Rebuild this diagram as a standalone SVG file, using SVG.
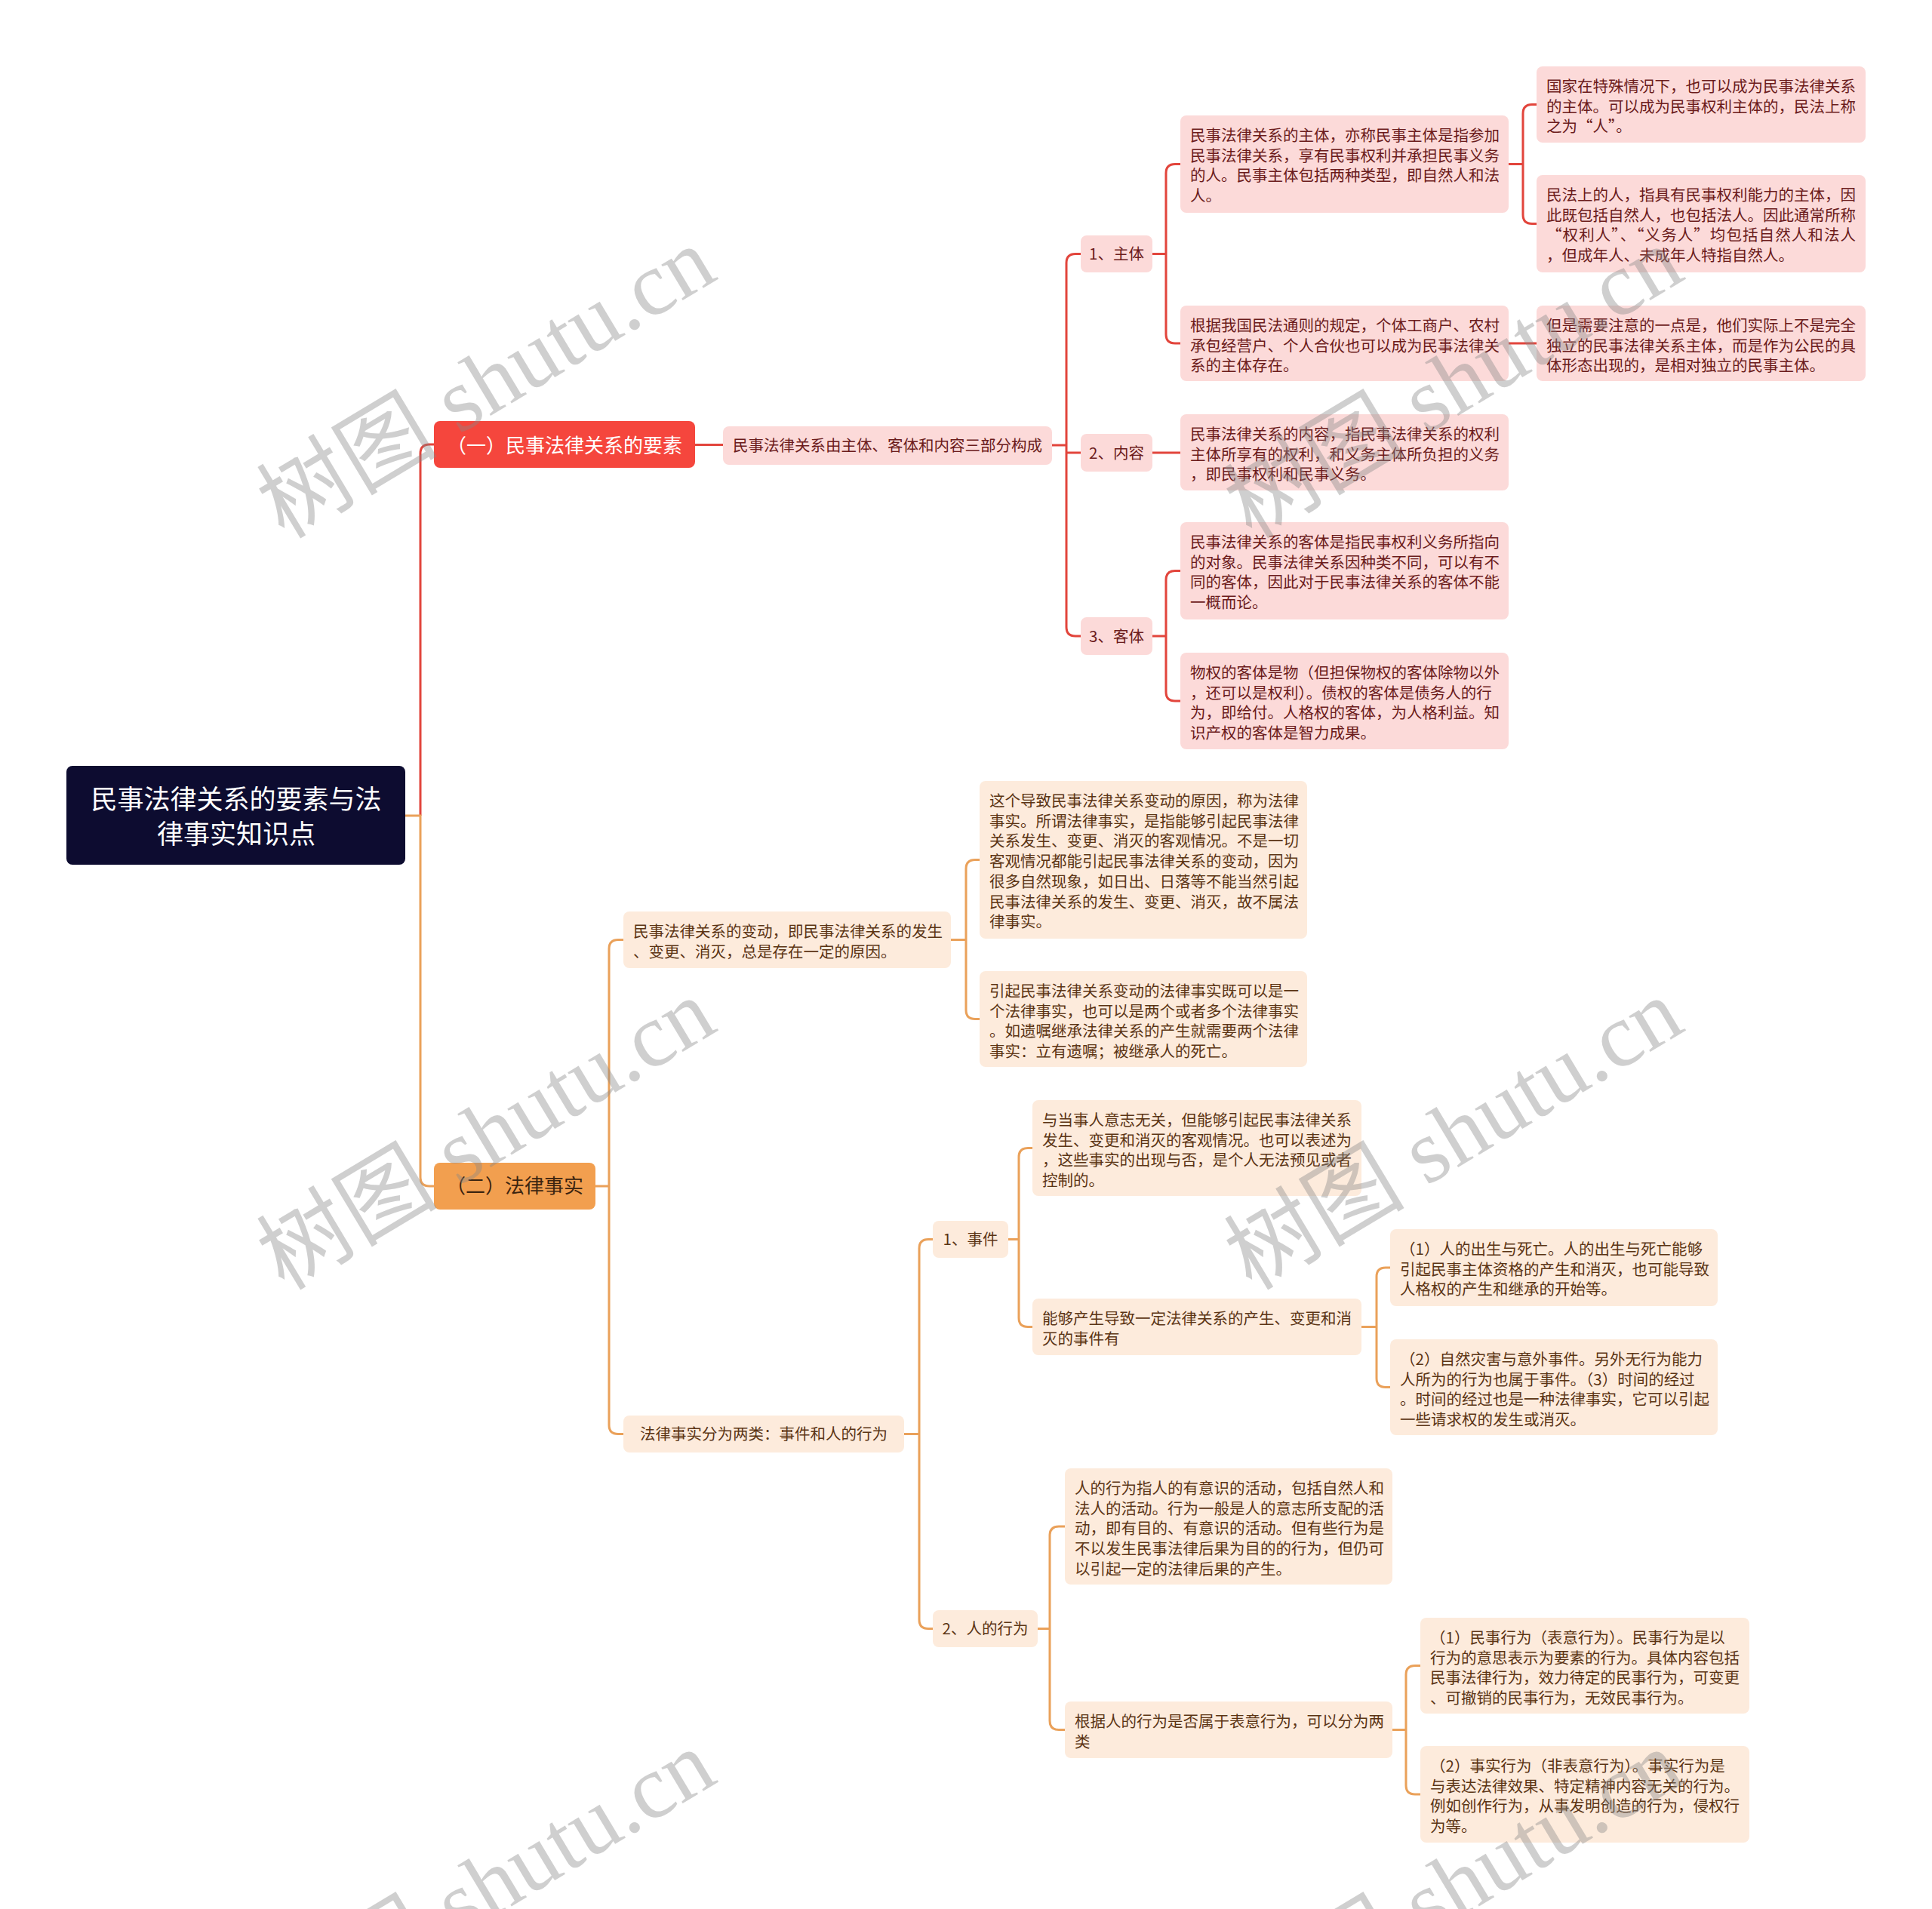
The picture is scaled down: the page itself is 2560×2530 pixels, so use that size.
<svg xmlns="http://www.w3.org/2000/svg" width="2560" height="2530" viewBox="0 0 2560 2530">
<style>
text{font-family:"Noto Sans CJK SC","Noto Sans",sans-serif}
.lr{fill:none;stroke:#e2453c;stroke-width:3}
.lo{fill:none;stroke:#eaa15a;stroke-width:3}
.pk{fill:#fcdad9}
.ok{fill:#fdebdc}
.tr{fill:#6b1b1b;font-size:20.5px}
.to{fill:#5b3414;font-size:20.5px}
.c{text-anchor:middle}
.wm{font-family:"Liberation Serif","Noto Sans CJK SC",serif;font-size:120px;fill:#888;fill-opacity:0.4;text-anchor:middle}
</style>
<rect width="2560" height="2530" fill="#ffffff"/>
<g id="connectors">
<path class="lr" d="M575 589 H569 Q557 589 557 601 V1081"/>
<path class="lo" d="M537 1081 H557 V1560 Q557 1572 569 1572 H575"/>
<path class="lr" d="M921 589.5 H958"/>
<path class="lr" d="M1394 590 H1413"/>
<path class="lr" d="M1432 336.5 H1425 Q1413 336.5 1413 348.5 V831 Q1413 843 1425 843 H1432"/>
<path class="lr" d="M1413 600 H1432"/>
<path class="lr" d="M1527 336.5 H1545"/>
<path class="lr" d="M1564 217.5 H1557 Q1545 217.5 1545 229.5 V443 Q1545 455 1557 455 H1564"/>
<path class="lr" d="M1999 217.5 H2018"/>
<path class="lr" d="M2036 138.5 H2030 Q2018 138.5 2018 150.5 V284.5 Q2018 296.5 2030 296.5 H2036"/>
<path class="lr" d="M1999 455 H2036"/>
<path class="lr" d="M1527 600 H1564"/>
<path class="lr" d="M1527 843 H1545"/>
<path class="lr" d="M1564 756.5 H1557 Q1545 756.5 1545 768.5 V917 Q1545 929 1557 929 H1564"/>
<path class="lo" d="M789 1572 H807"/>
<path class="lo" d="M826 1245.5 H819 Q807 1245.5 807 1257.5 V1888.5 Q807 1900.5 819 1900.5 H826"/>
<path class="lo" d="M1260 1245.5 H1280"/>
<path class="lo" d="M1298 1139.5 H1292 Q1280 1139.5 1280 1151.5 V1338.5 Q1280 1350.5 1292 1350.5 H1298"/>
<path class="lo" d="M1198 1900.5 H1218"/>
<path class="lo" d="M1236 1642.5 H1230 Q1218 1642.5 1218 1654.5 V2146.5 Q1218 2158.5 1230 2158.5 H1236"/>
<path class="lo" d="M1336 1642.5 H1350"/>
<path class="lo" d="M1368 1521.5 H1362 Q1350 1521.5 1350 1533.5 V1746.5 Q1350 1758.5 1362 1758.5 H1368"/>
<path class="lo" d="M1804 1758.5 H1824"/>
<path class="lo" d="M1842 1680 H1836 Q1824 1680 1824 1692 V1826.5 Q1824 1838.5 1836 1838.5 H1842"/>
<path class="lo" d="M1375 2158.5 H1391"/>
<path class="lo" d="M1411 2023 H1403 Q1391 2023 1391 2035 V2280.5 Q1391 2292.5 1403 2292.5 H1411"/>
<path class="lo" d="M1845 2292.5 H1863"/>
<path class="lo" d="M1882 2207.5 H1875 Q1863 2207.5 1863 2219.5 V2366 Q1863 2378 1875 2378 H1882"/>
</g>
<g id="root">
<rect x="88" y="1015" width="449" height="131" rx="8" fill="#0d0c30"/>
<text class="c" x="313" y="1072" font-size="35" fill="#ffffff">民事法律关系的要素与法<tspan x="313" dy="46">律事实知识点</tspan></text>
</g>
<g id="nA">
<rect x="575" y="558" width="346" height="62" rx="8" fill="#f5463d"/>
<text class="c" x="748" y="600" font-size="26" fill="#ffffff">（一）民事法律关系的要素</text>
</g>
<g id="nA1">
<rect class="pk" x="958" y="565" width="436" height="51" rx="8"/>
<text class="tr c" x="1176" y="598">民事法律关系由主体、客体和内容三部分构成</text>
</g>
<g id="nA11">
<rect class="pk" x="1432" y="312" width="95" height="49" rx="8"/>
<text class="tr c" x="1479.5" y="344">1、主体</text>
</g>
<g id="nA12">
<rect class="pk" x="1432" y="575" width="95" height="50" rx="8"/>
<text class="tr c" x="1479.5" y="607.5">2、内容</text>
</g>
<g id="nA13">
<rect class="pk" x="1432" y="818" width="95" height="50" rx="8"/>
<text class="tr c" x="1479.5" y="850.5">3、客体</text>
</g>
<g id="nM1">
<rect class="pk" x="1564" y="153" width="435" height="129" rx="8"/>
<text class="tr" x="1577" y="187">民事法律关系的主体，亦称民事主体是指参加<tspan x="1577" dy="26.7">民事法律关系，享有民事权利并承担民事义务</tspan><tspan x="1577" dy="26.7">的人。民事主体包括两种类型，即自然人和法</tspan><tspan x="1577" dy="26.7">人。</tspan></text>
</g>
<g id="nM2">
<rect class="pk" x="1564" y="405" width="435" height="100" rx="8"/>
<text class="tr" x="1577" y="439">根据我国民法通则的规定，个体工商户、农村<tspan x="1577" dy="26.7">承包经营户、个人合伙也可以成为民事法律关</tspan><tspan x="1577" dy="26.7">系的主体存在。</tspan></text>
</g>
<g id="nM3">
<rect class="pk" x="1564" y="549" width="435" height="101" rx="8"/>
<text class="tr" x="1577" y="583">民事法律关系的内容，指民事法律关系的权利<tspan x="1577" dy="26.7">主体所享有的权利，和义务主体所负担的义务</tspan><tspan x="1577" dy="26.7">，即民事权利和民事义务。</tspan></text>
</g>
<g id="nM4">
<rect class="pk" x="1564" y="692" width="435" height="129" rx="8"/>
<text class="tr" x="1577" y="726">民事法律关系的客体是指民事权利义务所指向<tspan x="1577" dy="26.7">的对象。民事法律关系因种类不同，可以有不</tspan><tspan x="1577" dy="26.7">同的客体，因此对于民事法律关系的客体不能</tspan><tspan x="1577" dy="26.7">一概而论。</tspan></text>
</g>
<g id="nM5">
<rect class="pk" x="1564" y="865" width="435" height="128" rx="8"/>
<text class="tr" x="1577" y="899">物权的客体是物（但担保物权的客体除物以外<tspan x="1577" dy="26.7">，还可以是权利）。债权的客体是债务人的行</tspan><tspan x="1577" dy="26.7">为，即给付。人格权的客体，为人格利益。知</tspan><tspan x="1577" dy="26.7">识产权的客体是智力成果。</tspan></text>
</g>
<g id="nN1">
<rect class="pk" x="2036" y="88" width="436" height="101" rx="8"/>
<text class="tr" x="2049" y="122">国家在特殊情况下，也可以成为民事法律关系<tspan x="2049" dy="26.7">的主体。可以成为民事权利主体的，民法上称</tspan><tspan x="2049" dy="26.7">之为“人”。</tspan></text>
</g>
<g id="nN2">
<rect class="pk" x="2036" y="232" width="436" height="129" rx="8"/>
<text class="tr" x="2049" y="266">民法上的人，指具有民事权利能力的主体，因<tspan x="2049" dy="26.7">此既包括自然人，也包括法人。因此通常所称</tspan></text>
<text class="tr" x="2049" y="319.4" textLength="410" lengthAdjust="spacing">“权利人”、“义务人”均包括自然人和法人</text>
<text class="tr" x="2049" y="346.1">，但成年人、未成年人特指自然人。</text>
</g>
<g id="nN3">
<rect class="pk" x="2036" y="405" width="436" height="100" rx="8"/>
<text class="tr" x="2049" y="439">但是需要注意的一点是，他们实际上不是完全<tspan x="2049" dy="26.7">独立的民事法律关系主体，而是作为公民的具</tspan><tspan x="2049" dy="26.7">体形态出现的，是相对独立的民事主体。</tspan></text>
</g>
<g id="nB">
<rect x="575" y="1541" width="214" height="62" rx="8" fill="#f29f4f"/>
<text class="c" x="682" y="1581" font-size="26" fill="#3b2410">（二）法律事实</text>
</g>
<g id="nO1">
<rect class="ok" x="826" y="1208" width="434" height="75" rx="8"/>
<text class="to" x="839" y="1242">民事法律关系的变动，即民事法律关系的发生<tspan x="839" dy="26.7">、变更、消灭，总是存在一定的原因。</tspan></text>
</g>
<g id="nO2">
<rect class="ok" x="1298" y="1035" width="434" height="209" rx="8"/>
<text class="to" x="1311" y="1069">这个导致民事法律关系变动的原因，称为法律<tspan x="1311" dy="26.7">事实。所谓法律事实，是指能够引起民事法律</tspan><tspan x="1311" dy="26.7">关系发生、变更、消灭的客观情况。不是一切</tspan><tspan x="1311" dy="26.7">客观情况都能引起民事法律关系的变动，因为</tspan><tspan x="1311" dy="26.7">很多自然现象，如日出、日落等不能当然引起</tspan><tspan x="1311" dy="26.7">民事法律关系的发生、变更、消灭，故不属法</tspan><tspan x="1311" dy="26.7">律事实。</tspan></text>
</g>
<g id="nO3">
<rect class="ok" x="1298" y="1287" width="434" height="127" rx="8"/>
<text class="to" x="1311" y="1321">引起民事法律关系变动的法律事实既可以是一<tspan x="1311" dy="26.7">个法律事实，也可以是两个或者多个法律事实</tspan><tspan x="1311" dy="26.7">。如遗嘱继承法律关系的产生就需要两个法律</tspan><tspan x="1311" dy="26.7">事实：立有遗嘱；被继承人的死亡。</tspan></text>
</g>
<g id="nO4">
<rect class="ok" x="826" y="1876" width="372" height="49" rx="8"/>
<text class="to c" x="1012" y="1908">法律事实分为两类：事件和人的行为</text>
</g>
<g id="nO5">
<rect class="ok" x="1236" y="1618" width="100" height="49" rx="8"/>
<text class="to c" x="1286" y="1650">1、事件</text>
</g>
<g id="nO6">
<rect class="ok" x="1368" y="1458" width="436" height="127" rx="8"/>
<text class="to" x="1381" y="1492">与当事人意志无关，但能够引起民事法律关系<tspan x="1381" dy="26.7">发生、变更和消灭的客观情况。也可以表述为</tspan><tspan x="1381" dy="26.7">，这些事实的出现与否，是个人无法预见或者</tspan><tspan x="1381" dy="26.7">控制的。</tspan></text>
</g>
<g id="nO7">
<rect class="ok" x="1368" y="1721" width="436" height="75" rx="8"/>
<text class="to" x="1381" y="1755">能够产生导致一定法律关系的产生、变更和消<tspan x="1381" dy="26.7">灭的事件有</tspan></text>
</g>
<g id="nO8">
<rect class="ok" x="1842" y="1629" width="434" height="102" rx="8"/>
<text class="to" x="1855" y="1663">（1）人的出生与死亡。人的出生与死亡能够<tspan x="1855" dy="26.7">引起民事主体资格的产生和消灭，也可能导致</tspan><tspan x="1855" dy="26.7">人格权的产生和继承的开始等。</tspan></text>
</g>
<g id="nO9">
<rect class="ok" x="1842" y="1775" width="434" height="127" rx="8"/>
<text class="to" x="1855" y="1809">（2）自然灾害与意外事件。另外无行为能力<tspan x="1855" dy="26.7">人所为的行为也属于事件。（3）时间的经过</tspan><tspan x="1855" dy="26.7">。时间的经过也是一种法律事实，它可以引起</tspan><tspan x="1855" dy="26.7">一些请求权的发生或消灭。</tspan></text>
</g>
<g id="nO10">
<rect class="ok" x="1236" y="2134" width="139" height="49" rx="8"/>
<text class="to c" x="1305.5" y="2166">2、人的行为</text>
</g>
<g id="nO11">
<rect class="ok" x="1411" y="1946" width="434" height="154" rx="8"/>
<text class="to" x="1424" y="1980">人的行为指人的有意识的活动，包括自然人和<tspan x="1424" dy="26.7">法人的活动。行为一般是人的意志所支配的活</tspan><tspan x="1424" dy="26.7">动，即有目的、有意识的活动。但有些行为是</tspan><tspan x="1424" dy="26.7">不以发生民事法律后果为目的的行为，但仍可</tspan><tspan x="1424" dy="26.7">以引起一定的法律后果的产生。</tspan></text>
</g>
<g id="nO12">
<rect class="ok" x="1411" y="2255" width="434" height="75" rx="8"/>
<text class="to" x="1424" y="2289">根据人的行为是否属于表意行为，可以分为两<tspan x="1424" dy="26.7">类</tspan></text>
</g>
<g id="nO13">
<rect class="ok" x="1882" y="2144" width="436" height="127" rx="8"/>
<text class="to" x="1895" y="2178">（1）民事行为（表意行为）。民事行为是以<tspan x="1895" dy="26.7">行为的意思表示为要素的行为。具体内容包括</tspan><tspan x="1895" dy="26.7">民事法律行为，效力待定的民事行为，可变更</tspan><tspan x="1895" dy="26.7">、可撤销的民事行为，无效民事行为。</tspan></text>
</g>
<g id="nO14">
<rect class="ok" x="1882" y="2314" width="436" height="128" rx="8"/>
<text class="to" x="1895" y="2348">（2）事实行为（非表意行为）。事实行为是<tspan x="1895" dy="26.7">与表达法律效果、特定精神内容无关的行为。</tspan><tspan x="1895" dy="26.7">例如创作行为，从事发明创造的行为，侵权行</tspan><tspan x="1895" dy="26.7">为等。</tspan></text>
</g>
<g id="watermarks">
<text class="wm" x="665" y="542" transform="rotate(-31 665 542)">树图 shutu.cn</text>
<text class="wm" x="1947" y="542" transform="rotate(-31 1947 542)">树图 shutu.cn</text>
<text class="wm" x="665" y="1538" transform="rotate(-31 665 1538)">树图 shutu.cn</text>
<text class="wm" x="1947" y="1538" transform="rotate(-31 1947 1538)">树图 shutu.cn</text>
<text class="wm" x="665" y="2534" transform="rotate(-31 665 2534)">树图 shutu.cn</text>
<text class="wm" x="1947" y="2534" transform="rotate(-31 1947 2534)">树图 shutu.cn</text>
</g>
</svg>
